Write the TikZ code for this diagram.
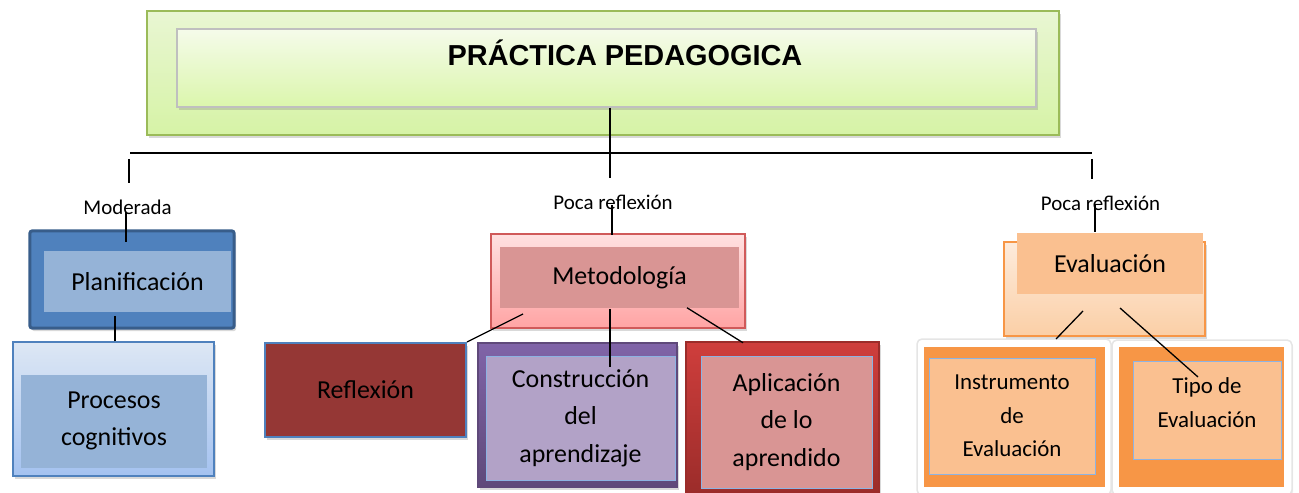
\documentclass[tikz,border=0pt]{standalone}
\usepackage{fontspec}
\setmainfont{Carlito}
\newfontfamily\titlefont{Liberation Sans}
\usetikzlibrary{shadows}
\definecolor{verdeborde}{HTML}{9BBB59}
\definecolor{verdeA}{HTML}{E9F6D3}
\definecolor{verdeB}{HTML}{D6F3A6}
\definecolor{verdeC}{HTML}{F5FBEA}
\definecolor{verdeD}{HTML}{DBF6AC}
\definecolor{grisborde}{HTML}{BFBFBF}
\definecolor{azul}{HTML}{4F81BD}
\definecolor{azulosc}{HTML}{385D8A}
\definecolor{azulclaro}{HTML}{95B3D7}
\definecolor{azulpalido}{HTML}{DDE7F4}
\definecolor{azulmedio}{HTML}{A4C2F0}
\definecolor{rosaA}{HTML}{FFE1E1}
\definecolor{rosaB}{HTML}{FFA4A4}
\definecolor{rosaborde}{HTML}{D05A5A}
\definecolor{rosaosc}{HTML}{D99594}
\definecolor{granate}{HTML}{953735}
\definecolor{moradoA}{HTML}{8064A8}
\definecolor{moradoB}{HTML}{5F497A}
\definecolor{moradoclaro}{HTML}{B2A2C7}
\definecolor{celeste}{HTML}{8DB3E2}
\definecolor{rojoA}{HTML}{CF3E3C}
\definecolor{rojoB}{HTML}{9B2C2A}
\definecolor{naranja}{HTML}{F79646}
\definecolor{naranjaclaro}{HTML}{FAC090}
\definecolor{melocA}{HTML}{FDEBDC}
\definecolor{melocB}{HTML}{FBCFA6}
\tikzset{caja/.style = {rectangle, inner sep=0pt, line width=1.5bp},
         sombra/.style = {drop shadow={opacity=0.3, shadow xshift=2bp, shadow yshift=-3bp}},
         fondo/.style = {caja, fill=white, draw=gray!20, rounded corners=5bp,
                         drop shadow={opacity=0.15, shadow xshift=1bp, shadow yshift=-2bp}},
         texto/.style = {font=\fontsize{26}{37.5}\selectfont, align=center},
         textochico/.style = {font=\fontsize{23}{33.5}\selectfont, align=center},
         etiqueta/.style = {font=\fontsize{21}{25}\selectfont, anchor=base},
         linea/.style = {line width=1.3bp}}

\begin{document}
\begin{tikzpicture}[x=1bp, y=-1bp]
      \useasboundingbox (0, 0) rectangle (1299, 493);

      \node [caja, draw=verdeborde, line width=2bp, top color=verdeA, bottom color=verdeB, sombra,
             minimum width=912bp, minimum height=124bp] (marco) at (603, 73) {};
      \node [caja, draw=grisborde, top color=verdeC, bottom color=verdeD, sombra,
             minimum width=859bp, minimum height=78bp, text height=21bp, text depth=25bp,
             font=\titlefont\bfseries\fontsize{29}{35}\selectfont] (practica) at (606.5, 68) {\hspace*{37bp}PRÁCTICA PEDAGOGICA};

      \coordinate (nudo) at (610, 178);
      \coordinate (barraI) at (130, 153);
      \coordinate (barraD) at (1092, 153);
      \coordinate (ramaI) at (129, 159);
      \coordinate (ramaD) at (1092, 159);
      \draw [linea] (practica.south -| nudo) -- (nudo);
      \draw [linea] (barraI) -- (barraD);
      \draw [linea] (ramaI) -- ++(0, 24);
      \draw [linea] (ramaD) -- ++(0, 20);

      \node [etiqueta] (moderada) at (127.5, 215) {Moderada};
      \node [etiqueta] (pocaM) at (613, 210) {Poca reflexión};
      \node [etiqueta] (pocaE) at (1100.5, 211) {Poca reflexión};

      % planificacion
      \node [caja, draw=azulosc, line width=3bp, fill=azul, rounded corners=2bp, sombra,
             minimum width=204bp, minimum height=97bp] (planificacion) at (132, 279.5) {};
      \node [caja, fill=azulclaro, minimum width=187bp, minimum height=61bp, texto] (planificacionT) at (137.5, 281.5) {Planificación};
      \node [caja, draw=azul, top color=azulpalido, bottom color=azulmedio, sombra,
             minimum width=201bp, minimum height=134bp] (procesos) at (113.5, 409) {};
      \node [caja, fill=azulclaro, minimum width=186bp, minimum height=93bp, texto] (procesosT) at (114, 421) {Procesos\\cognitivos};

      \draw [linea] (moderada.base) ++(-1.5, -3) -- ++(0, 30);
      \draw [linea] (procesos.north) ++(1.5, 0) -- ++(0, -25);

      % metodologia
      \node [caja, draw=rosaborde, line width=2bp, top color=rosaA, bottom color=rosaB, sombra,
             minimum width=254bp, minimum height=94bp] (metodologia) at (618, 281) {};
      \node [caja, fill=rosaosc, minimum width=239bp, minimum height=61bp, texto] (metodologiaT) at (619.5, 277.5) {Metodología};

      \node [caja, draw=azul, line width=2bp, fill=granate, sombra,
             minimum width=201bp, minimum height=94bp, texto] (reflexion) at (365.5, 390) {Reflexión};
      \node [caja, draw=moradoB, top color=moradoA, bottom color=moradoB, sombra,
             minimum width=199bp, minimum height=144bp] (construccion) at (577.5, 415) {};
      \node [caja, draw=celeste, line width=1bp, fill=moradoclaro,
             minimum width=189bp, minimum height=124bp, texto] (construccionT) at (580.5, 418) {Construcción\\del\\aprendizaje};
      \node [caja, draw=rojoB, top color=rojoA, bottom color=rojoB, sombra,
             minimum width=193bp, minimum height=153bp] (aplicacion) at (782.5, 418.5) {};
      \node [caja, draw=celeste, line width=1bp, fill=rosaosc,
             minimum width=171bp, minimum height=132bp, texto] (aplicacionT) at (786.5, 422) {Aplicación\\de lo\\aprendido};

      \draw [linea] (pocaM.base) ++(-1, -5) -- ++(0, 30);
      \draw [linea] (metodologia.south west) ++(33, -15) -- (reflexion.north east);
      \draw [linea] (metodologiaT.south) ++(-9.5, 0) -- ++(0, 58);
      \draw [linea] (metodologiaT.south) ++(67.5, -1) -- ++(56, 35);

      % evaluacion
      \node [caja, draw=naranja, line width=2bp, top color=melocA, bottom color=melocB, sombra,
             minimum width=201bp, minimum height=94bp] (evaluacion) at (1104.5, 289) {};
      \node [caja, fill=naranjaclaro, minimum width=186bp, minimum height=61bp, texto] (evaluacionT) at (1110, 263.5) {Evaluación};

      \node [fondo, minimum width=194bp, minimum height=156bp] (instrumentoF) at (1014, 417) {};
      \node [caja, fill=naranja, minimum width=181bp, minimum height=140bp] (instrumento) at (1014.5, 417) {};
      \node [caja, draw=celeste, line width=1bp, fill=naranjaclaro,
             minimum width=166bp, minimum height=116bp, textochico] (instrumentoT) at (1012, 416) {Instrumento\\de\\Evaluación};
      \node [fondo, minimum width=180bp, minimum height=155bp] (tipoF) at (1202, 417.5) {};
      \node [caja, fill=naranja, minimum width=165bp, minimum height=140bp] (tipo) at (1201.5, 417) {};
      \node [caja, draw=celeste, line width=1bp, fill=naranjaclaro, text height=50bp, text depth=16bp,
             minimum width=148bp, minimum height=98bp, textochico] (tipoT) at (1207, 410) {Tipo de\\Evaluación};

      \draw [linea] (pocaE.base) ++(-5.5, -6) -- ++(0, 27);
      \draw [linea] (evaluacion.south) ++(-21.5, -26) -- ++(-27, 28);
      \draw [linea] (evaluacion.south) ++(15.5, -29) -- ++(78, 69);

    \end{tikzpicture}
\end{document}
